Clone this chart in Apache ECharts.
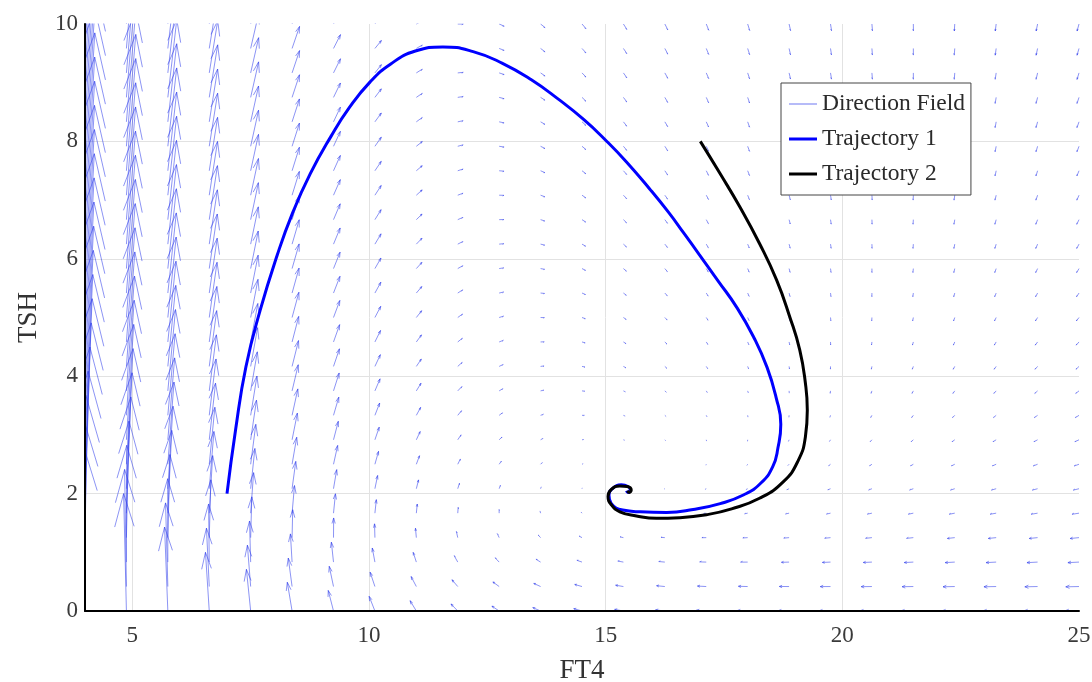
<!DOCTYPE html>
<html><head><meta charset="utf-8">
<script src="https://cdn.jsdelivr.net/npm/echarts@6/dist/echarts.min.js"></script>
<style>html,body{margin:0;padding:0;background:#fff}#chart{width:1092px;height:682px}</style>
</head><body><div id="chart"></div>
<script>
// ---- grid of the direction field (FT4 columns, TSH rows) ----
const ft4Grid = [4, 4.875, 5.75, 6.625, 7.5, 8.375, 9.25, 10.125, 11, 11.875, 12.75, 13.625, 14.5, 15.375, 16.25, 17.125, 18, 18.875, 19.75, 20.625, 21.5, 22.375, 23.25, 24.125, 25];
const tshGrid = [0, 0.4167, 0.8333, 1.25, 1.6667, 2.0833, 2.5, 2.9167, 3.3333, 3.75, 4.1667, 4.5833, 5, 5.4167, 5.8333, 6.25, 6.6667, 7.0833, 7.5, 7.9167, 8.3333, 8.75, 9.1667, 9.5833, 10];
// arrow components (axis units, already scaled)
const ft4RiseByTSH = [0, 0.021, 0.066, 0.114, 0.152, 0.179, 0.199, 0.213, 0.223, 0.231, 0.237, 0.241, 0.245, 0.248, 0.250, 0.252, 0.253, 0.255, 0.256, 0.257, 0.257, 0.258, 0.259, 0.259, 0.260];
const ft4DropByFT4 = [0.048, 0.059, 0.069, 0.080, 0.090, 0.101, 0.111, 0.122, 0.132, 0.143, 0.153, 0.164, 0.174, 0.185, 0.195, 0.206, 0.216, 0.227, 0.237, 0.248, 0.258, 0.269, 0.279, 0.290, 0.300];
const tshRiseByFT4 = [2.85, 2.00, 1.43, 1.00, 0.71, 0.49, 0.35, 0.25, 0.175, 0.12, 0.083, 0.058, 0.040, 0.027, 0.019, 0.013, 0.009, 0.006, 0.004, 0.003, 0.002, 0.001, 0.001, 0.0005, 0.0003];
const tshDropByTSH = [0, 0.005, 0.010, 0.015, 0.020, 0.025, 0.030, 0.035, 0.040, 0.045, 0.050, 0.055, 0.060, 0.065, 0.070, 0.075, 0.080, 0.085, 0.090, 0.095, 0.100, 0.105, 0.110, 0.115, 0.120];

// ---- trajectories ----
const traj1FT4 = [7.00, 7.18, 7.40, 7.70, 8.06, 8.38, 8.76, 9.20, 9.58, 10.02, 10.46, 10.98, 11.56, 12.20, 12.82, 13.43, 14.00, 14.54, 15.00, 15.44, 15.93, 16.33, 16.64, 16.97, 17.37, 17.78, 18.13, 18.41, 18.60, 18.70, 18.64, 18.53, 18.28, 17.92, 17.42, 16.85, 16.29, 15.73, 15.36, 15.12, 15.07, 15.15, 15.33, 15.47, 15.52, 15.47, 15.44];
const traj1TSH = [2.00, 3.08, 4.16, 5.12, 6.06, 6.77, 7.45, 8.09, 8.57, 9.01, 9.32, 9.54, 9.61, 9.53, 9.33, 9.05, 8.72, 8.37, 8.02, 7.65, 7.19, 6.79, 6.45, 6.08, 5.63, 5.16, 4.66, 4.15, 3.64, 3.18, 2.78, 2.46, 2.18, 1.98, 1.83, 1.73, 1.68, 1.69, 1.72, 1.83, 1.97, 2.09, 2.15, 2.12, 2.06, 2.02, 2.05];
const traj2FT4 = [17.00, 17.41, 17.83, 18.25, 18.61, 18.89, 19.10, 19.22, 19.26, 19.22, 19.06, 18.75, 18.25, 17.66, 17.13, 16.56, 16.07, 15.65, 15.30, 15.12, 15.05, 15.12, 15.30, 15.46, 15.54, 15.50, 15.46];
const traj2TSH = [8.00, 7.46, 6.89, 6.26, 5.64, 5.01, 4.45, 3.88, 3.42, 2.97, 2.55, 2.20, 1.92, 1.74, 1.64, 1.59, 1.58, 1.62, 1.69, 1.81, 1.95, 2.07, 2.13, 2.12, 2.06, 2.02, 2.05];

const seriesNames = ['Direction Field', 'Trajectory 1', 'Trajectory 2'];
const xTitle = 'FT4', yTitle = 'TSH';

// ---- build quiver path (shaft + two barbs per arrow) ----
const GAP = ['-', '-'];
const fieldPath = [];
const ARROW_SCALE = 0.3, ANGLE = Math.PI / 9;
for (let i = 0; i < ft4Grid.length; i++) {
  for (let j = 0; j < tshGrid.length; j++) {
    const x0 = ft4Grid[i], y0 = tshGrid[j];
    const dx = ft4RiseByTSH[j] - ft4DropByFT4[i];
    const dy = tshRiseByFT4[i] - tshDropByTSH[j];
    const x1 = x0 + dx, y1 = y0 + dy;
    const bl = Math.hypot(dx, dy) * ARROW_SCALE;
    const a = Math.atan2(dy, dx);
    const p1 = [x1 - bl * Math.cos(a + ANGLE), y1 - bl * Math.sin(a + ANGLE)];
    const p2 = [x1 - bl * Math.cos(a - ANGLE), y1 - bl * Math.sin(a - ANGLE)];
    fieldPath.push([x0, y0], [x1, y1], GAP, p1, [x1, y1], p2, GAP);
  }
}
const pairs = (xs, ys) => xs.map((x, k) => [x, ys[k]]);

const FONT = 'Liberation Serif';
const FIELD_COLOR = 'rgba(45,60,235,0.55)';
const chart = echarts.init(document.getElementById('chart'), null, {renderer: 'canvas'});
chart.setOption({
  animation: false,
  backgroundColor: '#fff',
  grid: {left: 85, right: 13, top: 24, bottom: 71, containLabel: false, outerBoundsMode: 'none'},
  legend: {
    data: [
      {name: seriesNames[0], icon: 'path://M0,0h28v1h-28z', itemStyle: {color: 'rgba(45,60,235,0.7)'}},
      {name: seriesNames[1], icon: 'path://M0,0h28v3h-28z', itemStyle: {color: '#0000ff'}},
      {name: seriesNames[2], icon: 'path://M0,0h28v3h-28z', itemStyle: {color: '#000000'}}
    ],
    orient: 'vertical', left: 781, top: 83,
    backgroundColor: '#fff', borderColor: '#444', borderWidth: 1,
    padding: [8, 6, 8, 8], itemGap: 9, itemWidth: 28, itemHeight: 14,
    textStyle: {fontFamily: FONT, fontSize: 23.5, color: '#2a2a2a', lineHeight: 26}
  },
  xAxis: [{
    type: 'value', min: 4, max: 25, name: xTitle, nameLocation: 'middle', nameGap: 46,
    nameTextStyle: {fontFamily: FONT, fontSize: 27, color: '#333'},
    axisLine: {show: false}, axisTick: {show: false},
    axisLabel: {fontFamily: FONT, fontSize: 23, color: '#3a3a3a', margin: 13, showMinLabel: false},
    splitLine: {show: true, showMinLine: false, showMaxLine: false, lineStyle: {color: '#e2e2e2', width: 1}}
  }, {
    type: 'value', min: 4, max: 25, position: 'bottom', z: 10,
    axisLine: {show: true, onZero: false, lineStyle: {color: '#000', width: 2}},
    axisTick: {show: false}, axisLabel: {show: false}, splitLine: {show: false}
  }],
  yAxis: [{
    type: 'value', min: 0, max: 10, name: yTitle, nameLocation: 'middle', nameGap: 43,
    nameTextStyle: {fontFamily: FONT, fontSize: 27, color: '#333'},
    axisLine: {show: false}, axisTick: {show: false},
    axisLabel: {fontFamily: FONT, fontSize: 23, color: '#3a3a3a', margin: 7},
    splitLine: {show: true, showMinLine: false, showMaxLine: false, lineStyle: {color: '#e2e2e2', width: 1}}
  }, {
    type: 'value', min: 0, max: 10, position: 'left', z: 10,
    axisLine: {show: true, onZero: false, lineStyle: {color: '#000', width: 2}},
    axisTick: {show: false}, axisLabel: {show: false}, splitLine: {show: false}
  }],
  series: [{
    name: seriesNames[0], type: 'line', data: fieldPath, symbol: 'none', showSymbol: false,
    connectNulls: false, clip: true, silent: true,
    lineStyle: {color: FIELD_COLOR, width: 1},
    itemStyle: {color: FIELD_COLOR}
  }, {
    name: seriesNames[1], type: 'line', data: pairs(traj1FT4, traj1TSH), symbol: 'none',
    smooth: 0.5, clip: true, silent: true,
    lineStyle: {color: '#0000ff', width: 3}, itemStyle: {color: '#0000ff'}
  }, {
    name: seriesNames[2], type: 'line', data: pairs(traj2FT4, traj2TSH), symbol: 'none',
    smooth: 0.5, clip: true, silent: true,
    lineStyle: {color: '#000000', width: 3}, itemStyle: {color: '#000000'}
  }]
});
</script></body></html>
